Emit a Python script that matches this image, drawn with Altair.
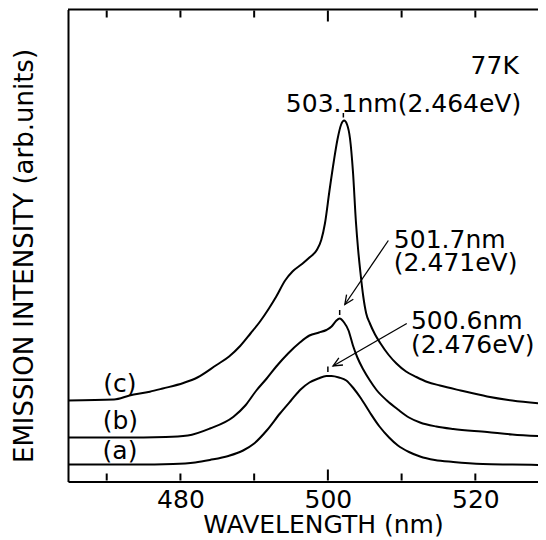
import math
import altair as alt
import pandas as pd

# ---------------- data ----------------
# curve (a)
wl_a = [464.75, 474, 479, 482, 484, 486.5, 488.5, 490, 491.7, 493.5, 495, 496.3, 497.5,
        498.7, 499.8, 500.5, 501.5, 502.5, 503.5, 504.5, 505.7, 507, 508.3, 509.5, 511,
        512.5, 514.5, 517, 521, 525, 529.6]
int_a = [17, 17, 17.5, 19, 21.5, 25.5, 31, 38, 51, 68, 81, 92, 99,
         103, 105.5, 105.5, 104, 101, 93, 83, 69, 55, 44, 36, 29.5,
         25, 21.5, 19.5, 17.5, 17, 16.5]

# curve (b)
wl_b = [464.75, 472, 478, 481, 484, 487.2, 488.8, 490.3, 491.7, 493, 494.6, 496.2, 497.5,
        498.8, 499.8, 500.5, 501.1, 501.6, 502.2, 502.8, 503.4, 504, 504.8, 505.7, 506.6,
        508, 509.5, 511, 512.5, 514.7, 517, 521.6, 525, 529.6]
int_b = [44, 44, 44.5, 46, 53, 64.8, 76, 91, 103, 115, 128, 139, 146,
         149, 151.5, 155, 160.5, 163, 159, 151, 136, 124, 112, 101, 91.5,
         81, 72, 64, 59, 55, 52.5, 49.5, 47, 45]

# curve (c)
wl_c = [464.75, 471, 473.1, 475.85, 477.6, 480.4, 482.3, 484.9, 486.6, 488.1, 489.5, 490.8,
        492, 493, 494.2, 495.2, 496.4, 497.5, 498.5, 499.1, 499.6, 500.2, 500.8, 501.3,
        501.8, 502.2, 502.6, 503.0, 503.4, 503.8, 504.1, 504.4, 504.8, 505.2, 505.7, 506.4,
        507.1, 508.2, 509.3, 510.6, 512, 513.5, 515.2, 518, 521.6, 525, 529.6]
int_c = [81, 82, 86, 89.8, 93, 98.5, 104, 116.5, 125, 135.5, 148, 160,
         173, 185, 201, 210, 217, 224, 231.5, 241.5, 258, 290, 320, 342,
         357, 361, 357, 343, 310, 260, 232, 210, 185, 168, 158, 147,
         138.5, 127, 118, 110, 104.5, 99.5, 96, 91, 85, 81, 77.5]

series_names = ["a", "b", "c"]

tick_values = [470, 480, 490, 500, 510, 520]
label_values = [480, 500, 520]
major_tick = 500

# annotation texts and their anchor points (data units)
left_texts = ["503.1nm(2.464eV)", "501.7nm", "(2.471eV)", "500.6nm", "(2.476eV)"]
left_x = [494.3, 508.95, 508.95, 511.26, 511.26]
left_y = [370, 234, 211, 153, 128.5]

right_texts = ["77K"]
right_x = [525.9]
right_y = [408]

curve_labels = ["(c)", "(b)", "(a)"]
curve_label_x = [471.8, 471.85, 471.8]
curve_label_y = [90, 53, 23]

# small peak markers
marker_x = [502.1, 501.6, 500.0]
marker_y1 = [364, 166.5, 109.5]
marker_y2 = [368.5, 171.5, 115]

# arrows (start -> end)
arrow_x1 = [508.2, 510.7]
arrow_y1 = [241, 158]
arrow_x2 = [502.3, 500.7]
arrow_y2 = [177, 115.5]

# ---------------- layout / style ----------------
X_MIN, X_MAX = 464.75, 528.5
Y_MIN, Y_MAX = 0, 472
W, H = 470, 472
FONT = "DejaVu Sans"
INK = "black"
MINOR_LEN, MAJOR_LEN = 8, 12

sx = W / (X_MAX - X_MIN)
sy = H / (Y_MAX - Y_MIN)

rows = []
for name, xs, ys in zip(series_names, [wl_a, wl_b, wl_c], [int_a, int_b, int_c]):
    for xv, yv in zip(xs, ys):
        rows.append({"series": name, "wl": xv, "inten": yv})
curves = pd.DataFrame(rows)

# frame ticks (bottom and top, pointing inwards) as two-point paths
tk_rows = []
for v in tick_values:
    ln = (MAJOR_LEN if v == major_tick else MINOR_LEN) / sy
    for edge, start, end in (("b", Y_MIN + 1, Y_MIN + ln), ("t", Y_MAX - 1, Y_MAX - ln)):
        tid = f"{edge}{v}"
        tk_rows.append({"id": tid, "tx": float(v), "ty": float(start), "k": 0})
        tk_rows.append({"id": tid, "tx": float(v), "ty": float(end), "k": 1})
ticks_df = pd.DataFrame(tk_rows)

mk_df = pd.DataFrame({"x": marker_x, "y1": marker_y1, "y2": marker_y2})
border_df = pd.DataFrame({"bx1": [X_MIN], "bx2": [X_MAX], "by": [float(Y_MAX)]})

left_df = pd.DataFrame({"t": left_texts, "x": left_x, "y": left_y})
right_df = pd.DataFrame({"t": right_texts, "x": right_x, "y": right_y})
cl_df = pd.DataFrame({"t": curve_labels, "x": curve_label_x, "y": curve_label_y})

arr_df = pd.DataFrame({"x1": arrow_x1, "y1": arrow_y1, "x2": arrow_x2, "y2": arrow_y2})
angles = []
for a, b, c, d in zip(arrow_x1, arrow_y1, arrow_x2, arrow_y2):
    dxp = (c - a) * sx
    dyp = -(d - b) * sy
    angles.append(math.degrees(math.atan2(dxp, -dyp)) % 360)
arr_df["ang"] = angles

xs_ = alt.Scale(domain=[X_MIN, X_MAX], nice=False, zero=False)
ys_ = alt.Scale(domain=[Y_MIN, Y_MAX], nice=False, zero=False)

label_test = " || ".join(f"datum.value == {v}" for v in label_values)

# inward bottom ticks drawn by the axis itself (with fallbacks if refused)
tick_encodings = [
    {"ticks": {"y2": {"value": {"expr": f"datum.value == {major_tick} ? {-MAJOR_LEN} : {-MINOR_LEN}"}}}},
    {"ticks": {"y2": {"value": -MINOR_LEN}}},
    None,
]


def make_x_axis(enc):
    kw = dict(grid=False, domainColor=INK, domainWidth=2,
              labelFont=FONT, labelFontSize=25, labelColor=INK, labelPadding=6,
              title="WAVELENGTH (nm)", titleFont=FONT, titleFontSize=25,
              titleFontWeight="normal", titleColor=INK, titleX=255, titleY=50.5,
              titleAlign="center", titleBaseline="alphabetic")
    if enc is None:
        kw.update(values=label_values, ticks=False, tickSize=0)
    else:
        kw.update(values=tick_values, ticks=True, tickSize=0, tickColor=INK, tickWidth=2,
                  labelExpr=f"({label_test}) ? datum.label : ''", encode=enc)
    return alt.Axis(**kw)


y_axis = alt.Axis(labels=False, ticks=False, grid=False, domainColor=INK, domainWidth=2,
                  title="EMISSION INTENSITY (arb.units)", titleFont=FONT, titleFontSize=26,
                  titleFontWeight="normal", titleColor=INK, titleX=-35.5, titleY=246,
                  titleAlign="center", titleBaseline="alphabetic")


def build(x_axis):
    def X(field):
        return alt.X(field, scale=xs_, axis=x_axis)

    def Y(field):
        return alt.Y(field, scale=ys_, axis=y_axis)

    lines = alt.Chart(curves).mark_line(color=INK, strokeWidth=2, interpolate="monotone",
                                        clip=True).encode(
        x=X("wl:Q"), y=Y("inten:Q"), detail="series:N",
    )
    frame_ticks = alt.Chart(ticks_df).mark_line(color=INK, strokeWidth=2,
                                                interpolate="linear").encode(
        x=X("tx:Q"), y=Y("ty:Q"), detail="id:N", order="k:Q",
    )
    top_border = alt.Chart(border_df).mark_rule(color=INK, strokeWidth=2).encode(
        x=X("bx1:Q"), x2="bx2:Q", y=Y("by:Q"),
    )
    markers = alt.Chart(mk_df).mark_rule(color=INK, strokeWidth=1.5).encode(
        x=X("x:Q"), y=Y("y1:Q"), y2="y2:Q",
    )
    arrow_lines = alt.Chart(arr_df).mark_rule(color=INK, strokeWidth=1.3).encode(
        x=X("x1:Q"), y=Y("y1:Q"), x2="x2:Q", y2="y2:Q",
    )
    arrow_heads = alt.Chart(arr_df).mark_point(shape="M-0.45,1L0,0L0.45,1", filled=False,
                                               color=INK, strokeWidth=1.3, size=330,
                                               opacity=1).encode(
        x=X("x2:Q"), y=Y("y2:Q"), angle=alt.Angle("ang:Q", scale=None),
    )
    txt_style = dict(font=FONT, fontSize=25, color=INK, baseline="alphabetic")
    left_text = alt.Chart(left_df).mark_text(align="left", **txt_style).encode(
        x=X("x:Q"), y=Y("y:Q"), text="t:N")
    right_text = alt.Chart(right_df).mark_text(align="right", **txt_style).encode(
        x=X("x:Q"), y=Y("y:Q"), text="t:N")
    curve_text = alt.Chart(cl_df).mark_text(align="center", **txt_style).encode(
        x=X("x:Q"), y=Y("y:Q"), text="t:N")

    return alt.layer(
        lines, frame_ticks, top_border, markers, arrow_lines, arrow_heads,
        left_text, right_text, curve_text,
    ).properties(
        width=W, height=H,
        autosize=alt.AutoSizeParams(type="none"),
        padding={"left": 60, "top": 1.5, "right": 0, "bottom": 58},
        background="white",
    ).configure_view(strokeWidth=0)


chart = None
for enc in tick_encodings:
    try:
        candidate = build(make_x_axis(enc))
        candidate.to_dict()
        chart = candidate
        break
    except Exception:
        continue

chart.save("out.html", embed_options={"renderer": "svg", "actions": False})
